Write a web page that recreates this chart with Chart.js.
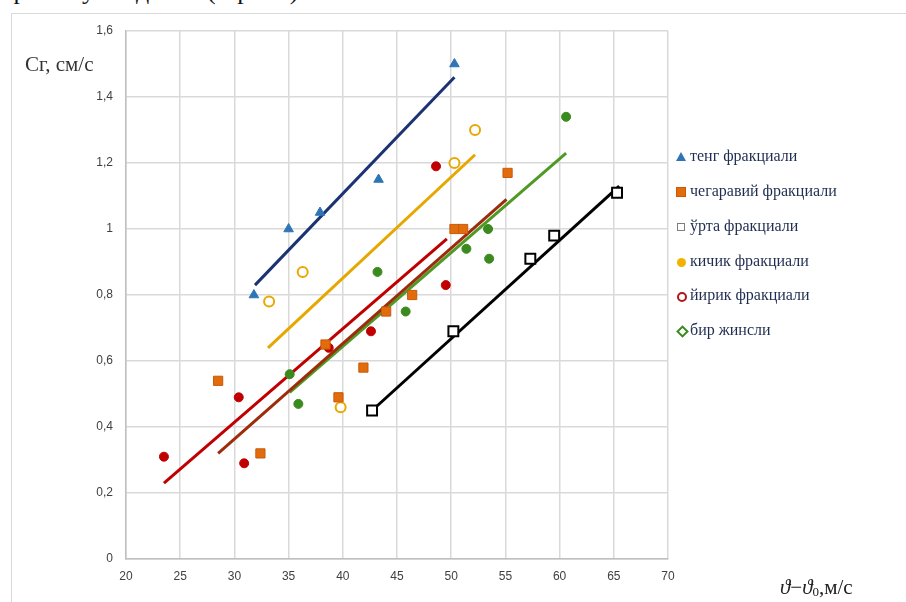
<!DOCTYPE html>
<html>
<head>
<meta charset="utf-8">
<script src="https://cdn.jsdelivr.net/npm/chart.js@4.4.1/dist/chart.umd.min.js"></script>
<style>
  html, body { margin: 0; padding: 0; background: #fff; }
  #wrap { position: relative; width: 906px; height: 602px; overflow: hidden; }
  #frame { position: absolute; left: 11px; top: 13px; width: 1000px; height: 700px;
           border-left: 1.5px solid #d9d9d9; border-top: 1.5px solid #d9d9d9; }
  #cv { position: absolute; left: 0; top: 0; }
  .txt { position: absolute; font-family: 'Liberation Serif', 'DejaVu Serif', serif; white-space: nowrap; }
  #topline { top: -24px; left: 0; font-size: 26px; color: #111; }
  #topline span { position: absolute; top: 0; }
  #ytitle { left: 25px; top: 52px; font-size: 21px; color: #333; }
  #xtitle { left: 780px; top: 575px; font-size: 21px; color: #222; }
  #xtitle i { font-style: italic; }
  #xtitle sub { font-size: 13px; vertical-align: -2px; }
  .leg { position: absolute; left: 690px; font-family: 'Liberation Serif', serif; font-size: 16px; color: #1f2d50; }
  .mk { position: absolute; }
</style>
</head>
<body>
<div id="wrap">
  <div id="frame"></div>
  <div id="topline" class="txt">
    <span style="left:2px">ар</span>
    <span style="left:82px">у</span>
    <span style="left:136px">д</span>
    <span style="left:207px">(3-расм).</span>
  </div>
  <canvas id="cv" width="906" height="602"></canvas>
  <div id="ytitle" class="txt">Cг, см/с</div>
  <div id="xtitle" class="txt"><i>ϑ</i>−<i>ϑ</i><sub>0</sub>,м/с</div>
  <div id="legend"></div>
</div>
<script>
// ── Axis ticks ─────────────────────────────
var xTicks = [20, 25, 30, 35, 40, 45, 50, 55, 60, 65, 70];
var yTicks = [0, 0.2, 0.4, 0.6, 0.8, 1, 1.2, 1.4, 1.6];
var yTickLabels = ['0', '0,2', '0,4', '0,6', '0,8', '1', '1,2', '1,4', '1,6'];

// ── Series ─────────────────────────────────
var seriesNames = ['тенг фракциали', 'чегаравий фракциали', 'ўрта фракциали',
                   'кичик фракциали', 'йирик фракциали', 'бир жинсли'];

var tengX = [31.8, 35.0, 37.9, 43.3, 50.3];
var tengY = [0.80, 1.00, 1.05, 1.15, 1.50];
var tengLineX = [31.9, 50.3];
var tengLineY = [0.83, 1.46];

var chegX = [28.5, 32.4, 38.4, 39.6, 41.9, 44.0, 46.4, 50.3, 51.1, 55.2];
var chegY = [0.54, 0.32, 0.65, 0.49, 0.58, 0.75, 0.80, 1.00, 1.00, 1.17];
var chegLineX = [28.5, 55.1];
var chegLineY = [0.32, 1.09];

var urtaX = [42.7, 50.2, 57.3, 59.5, 65.3];
var urtaY = [0.45, 0.69, 0.91, 0.98, 1.11];
var urtaLineX = [42.7, 65.5];
var urtaLineY = [0.45, 1.13];

var kichikX = [33.2, 36.3, 39.8, 50.3, 52.2];
var kichikY = [0.78, 0.87, 0.46, 1.20, 1.30];
var kichikLineX = [33.1, 52.2];
var kichikLineY = [0.64, 1.225];

var yirikX = [23.5, 30.4, 30.9, 38.7, 42.6, 48.6, 49.5];
var yirikY = [0.31, 0.49, 0.29, 0.64, 0.69, 1.19, 0.83];
var yirikLineX = [23.5, 49.6];
var yirikLineY = [0.23, 0.97];

var birX = [35.1, 35.9, 43.2, 45.8, 51.4, 53.4, 53.5, 60.6];
var birY = [0.56, 0.47, 0.87, 0.75, 0.94, 1.00, 0.91, 1.34];
var birLineX = [35.1, 60.6];
var birLineY = [0.505, 1.23];

// ── Helpers ────────────────────────────────
function pts(xs, ys) {
  return xs.map(function(x, i) { return { x: x, y: ys[i] }; });
}

function trend(label, xs, ys, color) {
  return {
    label: label, data: pts(xs, ys), showLine: true, order: 2,
    borderColor: color, borderWidth: 3, pointRadius: 0, fill: false
  };
}

function marks(label, xs, ys, style, radius, fillC, lineC, lw) {
  return {
    label: label, data: pts(xs, ys), showLine: false, order: 1,
    pointStyle: style, pointRadius: radius, pointHoverRadius: radius,
    backgroundColor: fillC, borderColor: lineC, borderWidth: lw
  };
}

var datasets = [
  trend('tl0', tengLineX, tengLineY, '#1b3372'),
  trend('tl1', chegLineX, chegLineY, '#9c2c0c'),
  trend('tl2', urtaLineX, urtaLineY, '#000000'),
  trend('tl3', kichikLineX, kichikLineY, '#e6a700'),
  trend('tl4', yirikLineX, yirikLineY, '#c00000'),
  trend('tl5', birLineX, birLineY, '#4e9a25'),
  marks(seriesNames[1], chegX, chegY, 'rect', 6.5, '#e36c0a', '#c55a11', 1),
  marks(seriesNames[3], kichikX, kichikY, 'circle', 5, '#ffffff', '#e8a800', 2),
  marks(seriesNames[5], birX, birY, 'circle', 4.5, '#3a8a1e', '#3a8a1e', 1),
  marks(seriesNames[4], yirikX, yirikY, 'circle', 4.5, '#c00000', '#c00000', 1),
  marks(seriesNames[2], urtaX, urtaY, 'rect', 7, '#ffffff', '#000000', 2),
  marks(seriesNames[0], tengX, tengY, 'triangle', 5.5, '#2e75b6', '#2e75b6', 1)
];

new Chart(document.getElementById('cv'), {
  type: 'scatter',
  data: { datasets: datasets },
  options: {
    responsive: false,
    animation: false,
    layout: { padding: { left: 0, top: 31, right: 238, bottom: 0 } },
    plugins: { legend: { display: false }, tooltip: { enabled: false } },
    scales: {
      x: {
        type: 'linear', min: 20, max: 70,
        afterBuildTicks: function(s) { s.ticks = xTicks.map(function(v) { return { value: v }; }); },
        afterFit: function(s) { s.height = 43; },
        ticks: {
          padding: 10, color: '#404040',
          font: { family: 'Liberation Sans', size: 12 },
          callback: function(v) { return String(v); }
        },
        grid: { color: '#d9d9d9', lineWidth: 1.5, drawTicks: false },
        border: { color: '#bfbfbf', width: 1.5 }
      },
      y: {
        type: 'linear', min: 0, max: 1.6,
        afterBuildTicks: function(s) { s.ticks = yTicks.map(function(v) { return { value: v }; }); },
        afterFit: function(s) { s.width = 126; },
        ticks: {
          padding: 13, color: '#404040',
          font: { family: 'Liberation Sans', size: 12 },
          callback: function(v, i) { return yTickLabels[i]; }
        },
        grid: { color: '#d9d9d9', lineWidth: 1.5, drawTicks: false },
        border: { color: '#bfbfbf', width: 1.5 }
      }
    }
  }
});

// ── Legend (HTML) ──────────────────────────
var legRows = [157, 192, 227, 262, 296, 331];
var legMarks = [
  'left:676px;width:0;height:0;border-left:5px solid transparent;border-right:5px solid transparent;border-bottom:9px solid #2e75b6;margin-top:-5px;',
  'left:676px;width:8px;height:8px;background:#e36c0a;border:1px solid #c55a11;margin-top:-5px;',
  'left:677px;width:6px;height:6px;background:#fff;border:1.5px solid #7f7f7f;margin-top:-4px;',
  'left:677px;width:9px;height:9px;border-radius:50%;background:#f0b400;margin-top:-4px;',
  'left:677px;width:6px;height:6px;border-radius:50%;background:#fff;border:2px solid #b01818;margin-top:-4px;',
  'left:678px;width:5px;height:5px;background:#fff;border:2px solid #3a8a1e;transform:rotate(45deg);margin-top:-4px;'
];
var html = '';
seriesNames.forEach(function(name, i) {
  html += '<div class="mk" style="top:' + legRows[i] + 'px;' + legMarks[i] + '"></div>';
  html += '<div class="leg" style="top:' + (legRows[i] - 10) + 'px">' + name + '</div>';
});
document.getElementById('legend').innerHTML = html;
</script>
</body>
</html>
